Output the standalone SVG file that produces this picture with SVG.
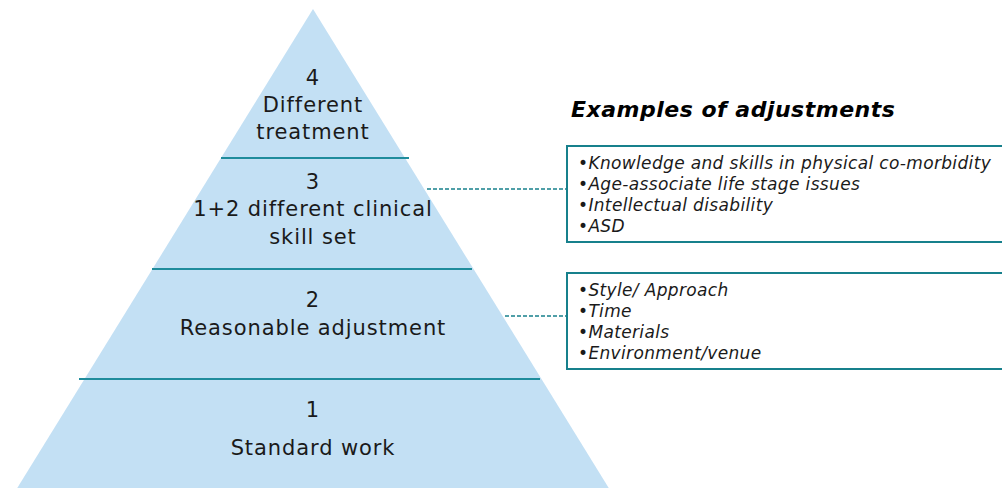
<svg xmlns="http://www.w3.org/2000/svg" width="1002" height="488" viewBox="0 0 1002 488">
<style>
.lvl{font-family:"DejaVu Sans",Verdana,sans-serif;font-size:21px;letter-spacing:0.9px;fill:#1a1a1a;text-anchor:middle}
.sep{stroke:#1f8c9c;stroke-width:2}
.box{fill:#fff;stroke:#17808c;stroke-width:2}
.item{font-family:"DejaVu Sans",Verdana,sans-serif;font-size:17px;letter-spacing:0.35px;font-style:italic;fill:#1a1a1a}
.title{font-family:"DejaVu Sans",Verdana,sans-serif;font-size:22px;letter-spacing:0.5px;font-style:italic;font-weight:bold;fill:#000}
.conn{stroke:#17808c;stroke-width:1.5;stroke-dasharray:4 2;fill:none}
</style>
<g id="pyramid">
<polygon points="313,9 610,490 16,490" fill="#c3e0f4"/>
<line class="sep" x1="221" y1="158" x2="409" y2="158"/>
<line class="sep" x1="152" y1="269" x2="472" y2="269"/>
<line class="sep" x1="79" y1="379" x2="540" y2="379"/>
</g>
<g id="level4">
<text class="lvl" x="313" y="85">4</text>
<text class="lvl" x="313" y="112">Different</text>
<text class="lvl" x="313" y="139">treatment</text>
</g>
<g id="level3">
<text class="lvl" x="313" y="189">3</text>
<text class="lvl" x="313" y="216">1+2 different clinical</text>
<text class="lvl" x="313" y="244">skill set</text>
</g>
<g id="level2">
<text class="lvl" x="313" y="307">2</text>
<text class="lvl" x="313" y="335">Reasonable adjustment</text>
</g>
<g id="level1">
<text class="lvl" x="313" y="417">1</text>
<text class="lvl" x="313" y="455">Standard work</text>
</g>
<g id="title">
<text class="title" x="571" y="117">Examples of adjustments</text>
</g>
<g id="box1">
<rect class="box" x="567" y="146" width="445" height="96"/>
<text class="item" x="578" y="169">•Knowledge and skills in physical co-morbidity</text>
<text class="item" x="578" y="190">•Age-associate life stage issues</text>
<text class="item" x="578" y="211">•Intellectual disability</text>
<text class="item" x="578" y="232">•ASD</text>
</g>
<g id="box2">
<rect class="box" x="567" y="273" width="445" height="96"/>
<text class="item" x="578" y="296">•Style/ Approach</text>
<text class="item" x="578" y="317">•Time</text>
<text class="item" x="578" y="338">•Materials</text>
<text class="item" x="578" y="359">•Environment/venue</text>
</g>
<g id="connectors">
<line class="conn" x1="427" y1="189" x2="567" y2="189"/>
<line class="conn" x1="505" y1="316" x2="567" y2="316"/>
</g>
</svg>
